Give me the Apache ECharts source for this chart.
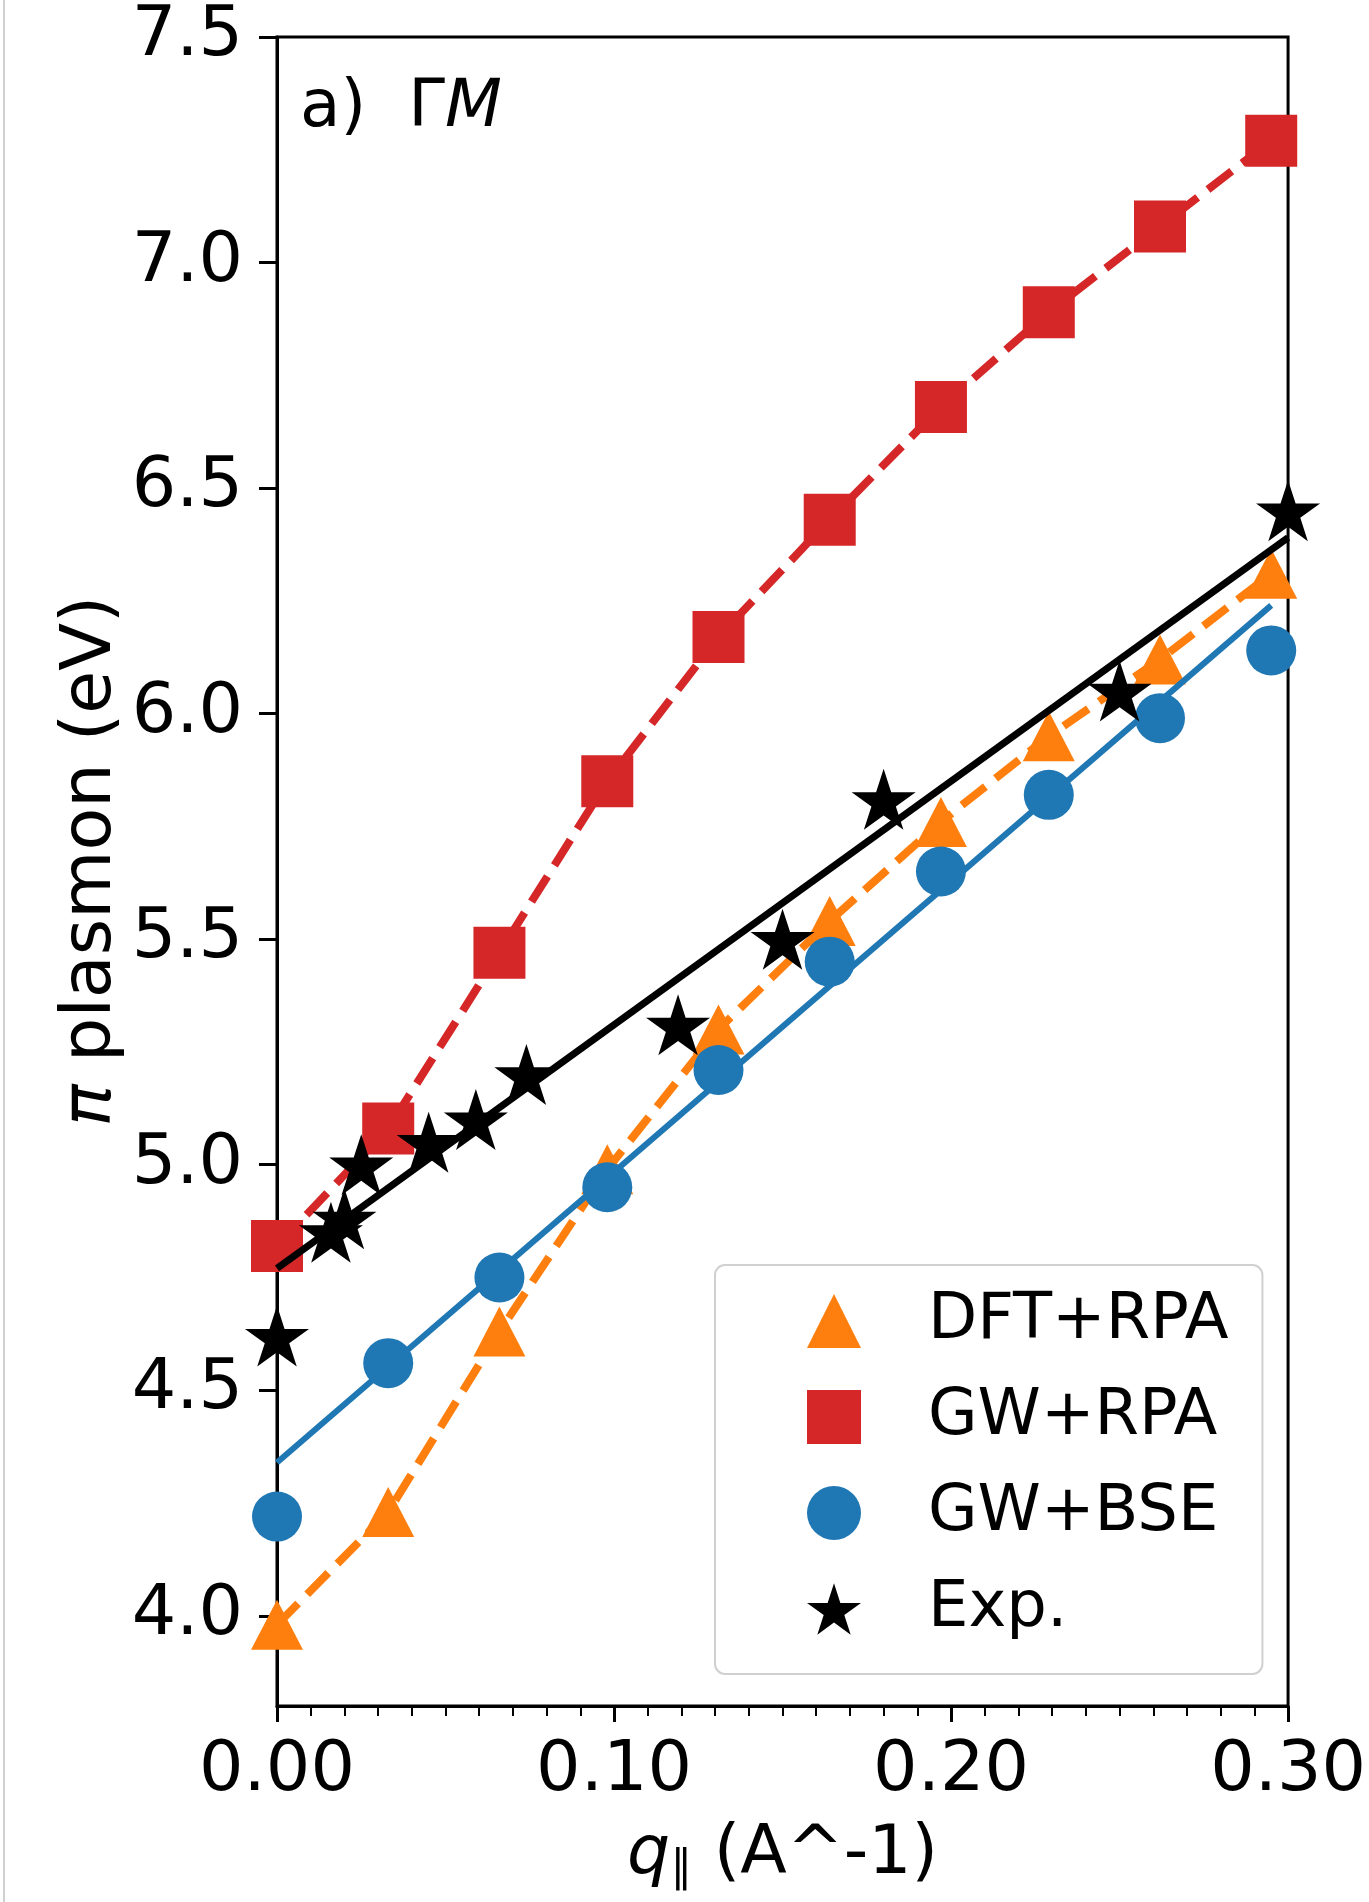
<!DOCTYPE html>
<html>
<head>
<meta charset="utf-8">
<script src="https://cdn.jsdelivr.net/npm/echarts@6/dist/echarts.min.js"></script>
<style>
  html, body { margin: 0; padding: 0; background: #fff; }
  #main { width: 1369px; height: 1902px; }
</style>
</head>
<body>
<div id="main"></div>
<script>
// q grid of the calculations (A^-1)
var qCalc = [0, 0.033, 0.066, 0.098, 0.131, 0.164, 0.197, 0.229, 0.262, 0.295];
var dftRpa = [3.98, 4.23, 4.63, 4.99, 5.30, 5.54, 5.76, 5.95, 6.12, 6.31];
var gwRpa = [4.82, 5.08, 5.47, 5.85, 6.17, 6.43, 6.68, 6.89, 7.08, 7.27];
var gwBse = [4.22, 4.56, 4.75, 4.95, 5.21, 5.45, 5.65, 5.82, 5.99, 6.14];

// experiment
var qExp = [0, 0.016, 0.020, 0.025, 0.045, 0.059, 0.074, 0.119, 0.150, 0.180, 0.250, 0.300];
var eExp = [4.62, 4.85, 4.88, 5.00, 5.05, 5.10, 5.20, 5.31, 5.50, 5.81, 6.05, 6.45];

// linear fits
var bseFitQ = [0, 0.295];
var bseFitE = [4.34, 6.24];
var expFitQ = [0, 0.30];
var expFitE = [4.77, 6.39];

var yTicks = [4.0, 4.5, 5.0, 5.5, 6.0, 6.5, 7.0, 7.5];

var starPath = 'path://M100 0 L122.45 69.1 L195.11 69.1 L136.33 111.8 L158.78 180.9 L100 138.2 L41.22 180.9 L63.67 111.8 L4.89 69.1 L77.55 69.1 Z';

function pts(xs, ys) {
    return xs.map(function (x, i) { return [x, ys[i]]; });
}

var font = 'DejaVu Sans';
var myChart = echarts.init(document.getElementById('main'));

var option = {
    backgroundColor: '#fff',
    animation: false,
    textStyle: { fontFamily: font, color: '#000' },
    grid: {
        left: 277, right: 73, top: 37, bottom: 196,
        show: true, borderColor: '#000', borderWidth: 3,
        containLabel: false
    },
    graphic: [
        { type: 'line', shape: { x1: 4, y1: 0, x2: 4, y2: 1902 }, style: { stroke: '#d0d0d0', lineWidth: 2 } },
        {
            type: 'text', left: 300, top: 76,
            style: {
                text: 'a)  Γ{i|M}',
                font: '66px "DejaVu Sans"',
                fill: '#000',
                rich: { i: { fontStyle: 'italic', fontSize: 66, fontFamily: font } }
            }
        },
        // y axis title
        {
            type: 'text', x: 92, y: 861, rotation: Math.PI / 2,
            style: {
                text: '{pi|π} plasmon (eV)',
                font: '70px "DejaVu Sans"',
                fill: '#000',
                align: 'center', verticalAlign: 'middle',
                rich: { pi: { fontStyle: 'italic', fontSize: 70, fontFamily: font } }
            }
        }
    ],
    legend: {
        orient: 'vertical',
        left: 715, top: 1265,
        padding: [24, 34, 33, 92],
        itemWidth: 54, itemHeight: 54, itemGap: 32,
        backgroundColor: 'rgba(255,255,255,0.8)',
        borderColor: '#d0d0d0', borderWidth: 2, borderRadius: 10,
        textStyle: { fontSize: 64, fontFamily: font, color: '#000', padding: [0, 0, 0, 62] },
        data: [
            { name: 'DFT+RPA', icon: 'triangle' },
            { name: 'GW+RPA', icon: 'rect' },
            { name: 'GW+BSE', icon: 'circle' },
            { name: 'Exp.', icon: starPath }
        ]
    },
    xAxis: {
        type: 'value', min: 0, max: 0.3, interval: 0.1,
        name: '{q|q}{sub|∥} (A^-1)',
        nameLocation: 'middle', nameGap: 112,
        nameTextStyle: {
            fontSize: 68, fontFamily: font, color: '#000',
            rich: {
                q: { fontSize: 68, fontStyle: 'italic', fontFamily: font },
                sub: { fontSize: 44, fontFamily: font, padding: [30, 0, 0, 0] }
            }
        },
        axisLine: { show: true, lineStyle: { color: '#000', width: 3 } },
        axisTick: { show: true, inside: false, length: 16, lineStyle: { color: '#000', width: 3 } },
        minorTick: { show: true, splitNumber: 10, length: 10, lineStyle: { color: '#000', width: 2 } },
        axisLabel: { fontSize: 70, fontFamily: font, color: '#000', margin: 31,
            formatter: function (v) { return v.toFixed(2); } },
        splitLine: { show: false }
    },
    yAxis: {
        type: 'value', min: 3.8, max: 7.5,
        axisLine: { show: true, lineStyle: { color: '#000', width: 3 } },
        axisTick: { show: true, inside: false, length: 18, customValues: yTicks, lineStyle: { color: '#000', width: 3 } },
        axisLabel: { fontSize: 70, fontFamily: font, color: '#000', margin: 34, customValues: yTicks,
            formatter: function (v) { return v.toFixed(1); } },
        splitLine: { show: false }
    },
    series: [
        {
            name: 'DFT+RPA', type: 'line', data: pts(qCalc, dftRpa), z: 2, clip: false,
            symbol: 'triangle', symbolSize: [52, 50],
            itemStyle: { color: '#ff7f0e' },
            lineStyle: { color: '#ff7f0e', width: 8, type: [30, 13] }
        },
        {
            name: 'GW+RPA', type: 'line', data: pts(qCalc, gwRpa), z: 3, clip: false,
            symbol: 'rect', symbolSize: 52,
            itemStyle: { color: '#d62728' },
            lineStyle: { color: '#d62728', width: 8, type: [30, 13] }
        },
        {
            name: 'GW+BSE fit', type: 'line', data: pts(bseFitQ, bseFitE), z: 4, clip: false,
            showSymbol: false, symbol: 'none',
            lineStyle: { color: '#1f77b4', width: 6 }
        },
        {
            name: 'GW+BSE', type: 'scatter', data: pts(qCalc, gwBse), z: 4, clip: false,
            symbol: 'circle', symbolSize: 50,
            itemStyle: { color: '#1f77b4', opacity: 1 }
        },
        {
            name: 'Exp. fit', type: 'line', data: pts(expFitQ, expFitE), z: 5, clip: false,
            showSymbol: false, symbol: 'none',
            lineStyle: { color: '#000', width: 7 }
        },
        {
            name: 'Exp.', type: 'scatter', data: pts(qExp, eExp), z: 6, clip: false,
            symbol: starPath, symbolSize: [64, 61],
            itemStyle: { color: '#000', opacity: 1 }
        }
    ]
};
myChart.setOption(option);
</script>
</body>
</html>
